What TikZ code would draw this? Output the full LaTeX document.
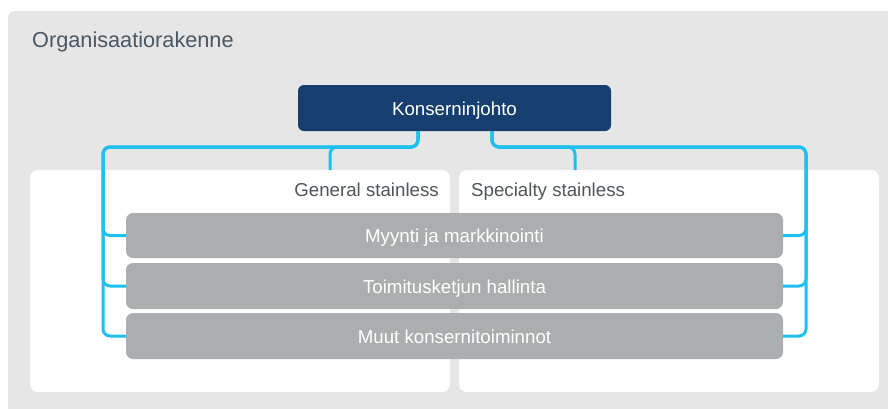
\documentclass[tikz,border=0pt]{standalone}
\usepackage{fontspec}
\setmainfont{Liberation Sans}
\usetikzlibrary{calc}
\definecolor{bggray}{HTML}{E6E6E6}
\definecolor{navy}{HTML}{163F70}
\definecolor{cyanline}{HTML}{1FBFEF}
\definecolor{boxgray}{HTML}{ABAEAF}
\definecolor{titlecol}{HTML}{4A5863}
\definecolor{labelcol}{HTML}{505559}
\tikzset{
  panel/.style={fill=white, rounded corners=8pt, minimum width=420pt, minimum height=222pt, inner sep=0pt},
  topbox/.style={fill=navy, rounded corners=6pt, minimum width=313pt, minimum height=46pt, inner sep=0pt,
    text height=14pt, text depth=0pt, text=white, font=\fontsize{18.7pt}{20pt}\selectfont},
  funcbox/.style={fill=boxgray, rounded corners=7pt, minimum width=657pt, inner sep=0pt,
    text height=14.5pt, text depth=0pt, text=white, font=\fontsize{18.7pt}{20pt}\selectfont},
  plabel/.style={text=labelcol, font=\fontsize{18.7pt}{20pt}\selectfont, inner sep=0pt},
  conn/.style={draw=cyanline, line width=3pt, rounded corners=7pt}
}
\begin{document}
\begin{tikzpicture}[x=1pt,y=-1pt]
\useasboundingbox (0,0) rectangle (888,408);
% background
\fill[bggray, rounded corners=7pt] (8,420) -- (8,11) -- (900,11) -- (900,420) -- cycle;
\node[anchor=base west, text=titlecol, font=\fontsize{21.7pt}{24pt}\selectfont, inner sep=0pt] (title) at (32,47) {Organisaatiorakenne};
% panels
\node[panel] (gsp) at (240,281) {};
\node[panel] (ssp) at (669,281) {};
\node[plabel, anchor=base east] (gsl) at (439,196) {General stainless};
\node[plabel, anchor=base west] (ssl) at (471,196) {Specialty stainless};
\coordinate (gsj) at (330,170);
\coordinate (ssj) at (575,170);
% top box
\node[topbox] (k) at (454.5,108) {Konserninjohto};
% function boxes
\node[funcbox, minimum height=45pt] (m1) at (454.5,235.5) {Myynti ja markkinointi};
\node[funcbox, minimum height=46pt] (m2) at (454.5,286) {Toimitusketjun hallinta};
\node[funcbox, minimum height=46pt] (m3) at (454.5,336) {Muut konsernitoiminnot};
% connectors left
\draw[conn] ([xshift=-36.5pt]k.south) |- (330,147) -- (gsj);
\foreach \m in {m1,m2,m3} {
  \draw[conn] ([xshift=-36.5pt]k.south) |- (103,147) |- (\m.west);
}
% connectors right
\draw[conn] ([xshift=37.5pt]k.south) |- (575,147) -- (ssj);
\foreach \m in {m1,m2,m3} {
  \draw[conn] ([xshift=37.5pt]k.south) |- (806,147) |- (\m.east);
}
\end{tikzpicture}
\end{document}
